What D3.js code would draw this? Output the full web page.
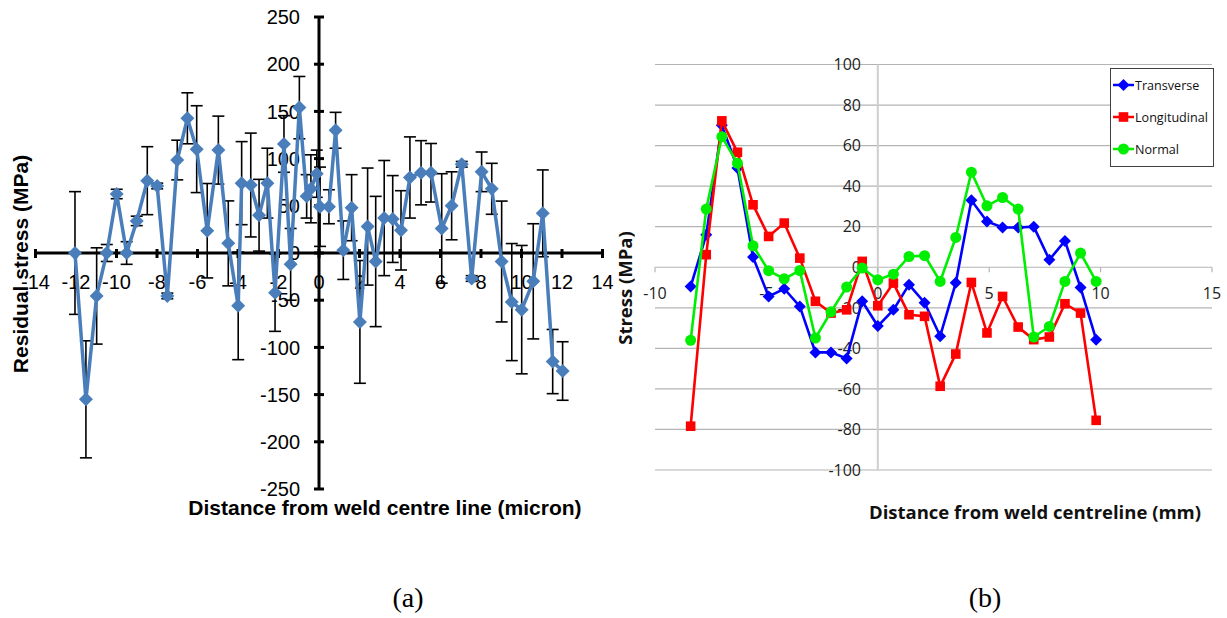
<!DOCTYPE html>
<html>
<head>
<meta charset="utf-8">
<script src="https://cdn.jsdelivr.net/npm/d3@7"></script>
<style>
  body { margin: 0; background: #fff; }
  svg { display: block; }
</style>
</head>
<body>
<svg id="fig" width="1227" height="618"></svg>
<script>
// ---------- chart (a) data ----------
const aX = [-12.05, -11.51, -10.98, -10.48, -9.99, -9.5, -9.0, -8.48, -7.99, -7.49, -7.0, -6.5, -6.04, -5.52, -4.97, -4.48, -3.99, -3.82, -3.37, -2.96, -2.55, -2.17, -1.73, -1.4, -0.97, -0.61, -0.4, -0.11, 0.05, 0.49, 0.82, 1.2, 1.61, 2.02, 2.4, 2.8, 3.22, 3.64, 4.05, 4.49, 5.04, 5.53, 6.06, 6.55, 7.05, 7.54, 8.03, 8.53, 9.02, 9.52, 10.01, 10.58, 11.05, 11.54, 12.03];
const aStress = [0, -155, -45.5, 0, 62.5, 0, 34, 76.6, 71, -45.5, 98.5, 142.7, 110, 23.6, 109, 10.2, -56, 74, 72, 40, 74, -42, 115.5, -12, 154, 60, 68, 84, 49, 49, 130, 3, 48, -73, 28, -9, 37, 36, 24, 80, 85, 85, 26, 50, 94, -27, 86, 68, -9, -52, -60, -30, 42, -115, -125];
const aErr = [65, 62, 51, 9, 5, 12, 5, 36, 3, 3, 21, 27, 46, 50, 36, 45, 57, 44, 55, 38, 37, 41, 30, 38, 33, 23, 36, 25, 42, 18, 19, 31, 35, 65, 62, 69, 61, 46, 42, 43, 34, 31, 58, 36, 3, 3, 21, 27, 64, 62, 68, 61, 46, 34, 31];
const aXTicks = [-14, -12, -10, -8, -6, -4, -2, 0, 2, 4, 6, 8, 10, 12, 14];
const aYTicks = [-250, -200, -150, -100, -50, 0, 50, 100, 150, 200, 250];

// ---------- chart (b) data ----------
const bX = [-8.4, -7.7, -7.0, -6.3, -5.6, -4.9, -4.2, -3.5, -2.8, -2.1, -1.4, -0.7, 0, 0.7, 1.4, 2.1, 2.8, 3.5, 4.2, 4.9, 5.6, 6.3, 7.0, 7.7, 8.4, 9.1, 9.8];
const transverse = [-9.5, 16, 70, 49, 5, -14.4, -10.6, -19.3, -42, -42, -45, -16.8, -29, -21, -8.6, -17.5, -34, -7.7, 33, 22.6, 19.6, 19.6, 20, 3.7, 13, -10, -35.7];
const longitudinal = [-78.4, 6.2, 72.2, 56.7, 30.8, 15.2, 21.8, 4.5, -16.8, -22.6, -21, 2.9, -19, -7.8, -23.4, -24.2, -58.7, -42.8, -7.5, -32.4, -14.4, -29.5, -35.7, -34.4, -18, -22.6, -75.5];
const normal = [-36, 28.7, 64.4, 51.3, 10.6, -1.7, -5.7, -1.6, -34.9, -22, -9.8, -0.4, -6.2, -3.4, 5.3, 5.7, -7, 14.7, 46.9, 30.3, 34.4, 28.7, -34.4, -29.2, -7, 7, -7];
const bSeriesNames = ["Transverse", "Longitudinal", "Normal"];
const bXTicks = [-10, -5, 0, 5, 10, 15];
const bYTicks = [-100, -80, -60, -40, -20, 0, 20, 40, 60, 80, 100];

const svg = d3.select("#fig");
const arial = "'Liberation Sans', Arial, sans-serif";
const calibri = "'Open Sans', 'Noto Sans', sans-serif";

/******************** chart (a) ********************/
const xa = d3.scaleLinear().domain([-14, 14]).range([35.5, 602.5]);
const ya = d3.scaleLinear().domain([-250, 250]).range([489, 17]);
const ga = svg.append("g");

// y tick labels
ga.selectAll(".ylab").data(aYTicks).join("text")
    .attr("x", xa(0) - 19)
    .attr("y", d => ya(d))
    .attr("dy", "0.36em")
    .attr("text-anchor", "end")
    .attr("font-family", arial)
    .attr("font-size", 20)
    .text(d => String(d));

// x tick labels
ga.selectAll(".xlab").data(aXTicks).join("text")
    .attr("x", d => xa(d))
    .attr("y", 289)
    .attr("text-anchor", "middle")
    .attr("font-family", arial)
    .attr("font-size", 20)
    .text(d => String(d));

// axes lines
ga.append("line")
    .attr("x1", xa(-14)).attr("x2", xa(14))
    .attr("y1", ya(0)).attr("y2", ya(0))
    .attr("stroke", "#000").attr("stroke-width", 3);
ga.append("line")
    .attr("x1", xa(0)).attr("x2", xa(0))
    .attr("y1", ya(250)).attr("y2", ya(-250))
    .attr("stroke", "#000").attr("stroke-width", 3);

ga.selectAll(".ytick").data(aYTicks).join("line")
    .attr("x1", xa(0) - 5).attr("x2", xa(0) + 5)
    .attr("y1", d => ya(d)).attr("y2", d => ya(d))
    .attr("stroke", "#000").attr("stroke-width", 3);
ga.selectAll(".xtick").data(aXTicks).join("line")
    .attr("x1", d => xa(d)).attr("x2", d => xa(d))
    .attr("y1", ya(0) - 4).attr("y2", ya(0) + 5)
    .attr("stroke", "#000").attr("stroke-width", 3);

const aPts = aX.map((x, i) => ({ x: x, y: aStress[i], e: aErr[i] }));

// error bars
const eb = ga.selectAll(".err").data(aPts).join("g");
eb.append("line")
    .attr("x1", d => xa(d.x)).attr("x2", d => xa(d.x))
    .attr("y1", d => ya(d.y - d.e)).attr("y2", d => ya(d.y + d.e))
    .attr("stroke", "#000").attr("stroke-width", 1.6);
eb.append("line")
    .attr("x1", d => xa(d.x) - 6).attr("x2", d => xa(d.x) + 6)
    .attr("y1", d => ya(d.y + d.e)).attr("y2", d => ya(d.y + d.e))
    .attr("stroke", "#000").attr("stroke-width", 1.6);
eb.append("line")
    .attr("x1", d => xa(d.x) - 6).attr("x2", d => xa(d.x) + 6)
    .attr("y1", d => ya(d.y - d.e)).attr("y2", d => ya(d.y - d.e))
    .attr("stroke", "#000").attr("stroke-width", 1.6);

ga.append("path")
    .datum(aPts)
    .attr("d", d3.line().x(d => xa(d.x)).y(d => ya(d.y)))
    .attr("fill", "none")
    .attr("stroke", "#4a7ebb")
    .attr("stroke-width", 3.5)
    .attr("stroke-linejoin", "round");

const diamond = r => `M0,${-r}L${r},0L0,${r}L${-r},0Z`;
ga.selectAll(".mk").data(aPts).join("path")
    .attr("transform", d => `translate(${xa(d.x)},${ya(d.y)})`)
    .attr("d", diamond(7))
    .attr("fill", "#4a7ebb");

ga.append("text")
    .attr("transform", `translate(28,264) rotate(-90)`)
    .attr("text-anchor", "middle")
    .attr("font-family", arial)
    .attr("font-weight", "bold")
    .attr("font-size", 21)
    .text("Residual stress (MPa)");

ga.append("text")
    .attr("x", 385).attr("y", 515)
    .attr("text-anchor", "middle")
    .attr("font-family", arial)
    .attr("font-weight", "bold")
    .attr("font-size", 21)
    .text("Distance from weld centre line (micron)");

/******************** chart (b) ********************/
const xb = d3.scaleLinear().domain([-10, 15]).range([655, 1212]);
const yb = d3.scaleLinear().domain([-100, 100]).range([470, 64.5]);
const gb = svg.append("g");

gb.selectAll(".grid").data(bYTicks).join("line")
    .attr("x1", xb(-10)).attr("x2", xb(15))
    .attr("y1", d => yb(d)).attr("y2", d => yb(d))
    .attr("stroke", "#b4b4b4").attr("stroke-width", 1.2);

gb.append("line")
    .attr("x1", xb(0)).attr("x2", xb(0))
    .attr("y1", yb(100)).attr("y2", yb(-100))
    .attr("stroke", "#cfcfcf").attr("stroke-width", 2);

gb.selectAll(".bxt").data(bXTicks).join("line")
    .attr("x1", d => xb(d)).attr("x2", d => xb(d))
    .attr("y1", yb(0)).attr("y2", yb(0) + 5)
    .attr("stroke", "#b4b4b4").attr("stroke-width", 1.2);

gb.selectAll(".bylab").data(bYTicks).join("text")
    .attr("x", 861)
    .attr("y", d => yb(d))
    .attr("dy", "0.36em")
    .attr("text-anchor", "end")
    .attr("font-family", calibri)
    .attr("font-size", 16)
    .attr("fill", "#222")
    .text(d => String(d));

gb.selectAll(".bxlab").data(bXTicks).join("text")
    .attr("x", d => xb(d))
    .attr("y", 299)
    .attr("text-anchor", "middle")
    .attr("font-family", calibri)
    .attr("font-size", 16)
    .attr("fill", "#222")
    .text(d => String(d));

const series = [
    { name: bSeriesNames[0], values: transverse, color: "#0000ff", shape: "diamond" },
    { name: bSeriesNames[1], values: longitudinal, color: "#ff0000", shape: "square" },
    { name: bSeriesNames[2], values: normal, color: "#00ee00", shape: "circle" }
];

function marker(sel, shape, color) {
    if (shape === "circle") {
        sel.append("circle").attr("r", 5.5).attr("fill", color);
    } else if (shape === "square") {
        sel.append("rect").attr("x", -4.8).attr("y", -4.8).attr("width", 9.6).attr("height", 9.6).attr("fill", color);
    } else {
        sel.append("path").attr("d", diamond(6)).attr("fill", color);
    }
}

const bline = d3.line().x((d, i) => xb(bX[i])).y(d => yb(d));
series.forEach(s => {
    const g = gb.append("g");
    g.append("path")
        .datum(s.values)
        .attr("d", bline)
        .attr("fill", "none")
        .attr("stroke", s.color)
        .attr("stroke-width", 2.6);
    g.selectAll(".m").data(s.values).join("g")
        .attr("transform", (d, i) => `translate(${xb(bX[i])},${yb(d)})`)
        .each(function () { marker(d3.select(this), s.shape, s.color); });
});

// legend
const lg = gb.append("g");
lg.append("rect")
    .attr("x", 1110.5).attr("y", 68.5).attr("width", 103).attr("height", 98)
    .attr("fill", "#fff").attr("stroke", "#404040").attr("stroke-width", 1);
series.forEach((s, i) => {
    const ly = 85 + i * 32;
    lg.append("line")
        .attr("x1", 1113).attr("x2", 1134).attr("y1", ly).attr("y2", ly)
        .attr("stroke", s.color).attr("stroke-width", 2.5);
    marker(lg.append("g").attr("transform", `translate(1123.5,${ly})`), s.shape, s.color);
    lg.append("text")
        .attr("x", 1135).attr("y", ly).attr("dy", "0.36em")
        .attr("font-family", calibri)
        .attr("font-size", 12.6)
        .attr("fill", "#111")
        .text(s.name);
});

gb.append("text")
    .attr("transform", `translate(632,288) rotate(-90)`)
    .attr("text-anchor", "middle")
    .attr("font-family", calibri)
    .attr("font-weight", "bold")
    .attr("font-size", 18.5)
    .attr("fill", "#111")
    .text("Stress (MPa)");

gb.append("text")
    .attr("x", 1035).attr("y", 519)
    .attr("text-anchor", "middle")
    .attr("font-family", calibri)
    .attr("font-weight", "bold")
    .attr("font-size", 18.5)
    .attr("fill", "#111")
    .text("Distance from weld centreline (mm)");

// panel labels
svg.selectAll(".panel").data([{ t: "(a)", x: 408 }, { t: "(b)", x: 985 }]).join("text")
    .attr("x", d => d.x).attr("y", 607)
    .attr("text-anchor", "middle")
    .attr("font-family", "'Liberation Serif', 'Times New Roman', serif")
    .attr("font-size", 28)
    .text(d => d.t);
</script>
</body>
</html>
